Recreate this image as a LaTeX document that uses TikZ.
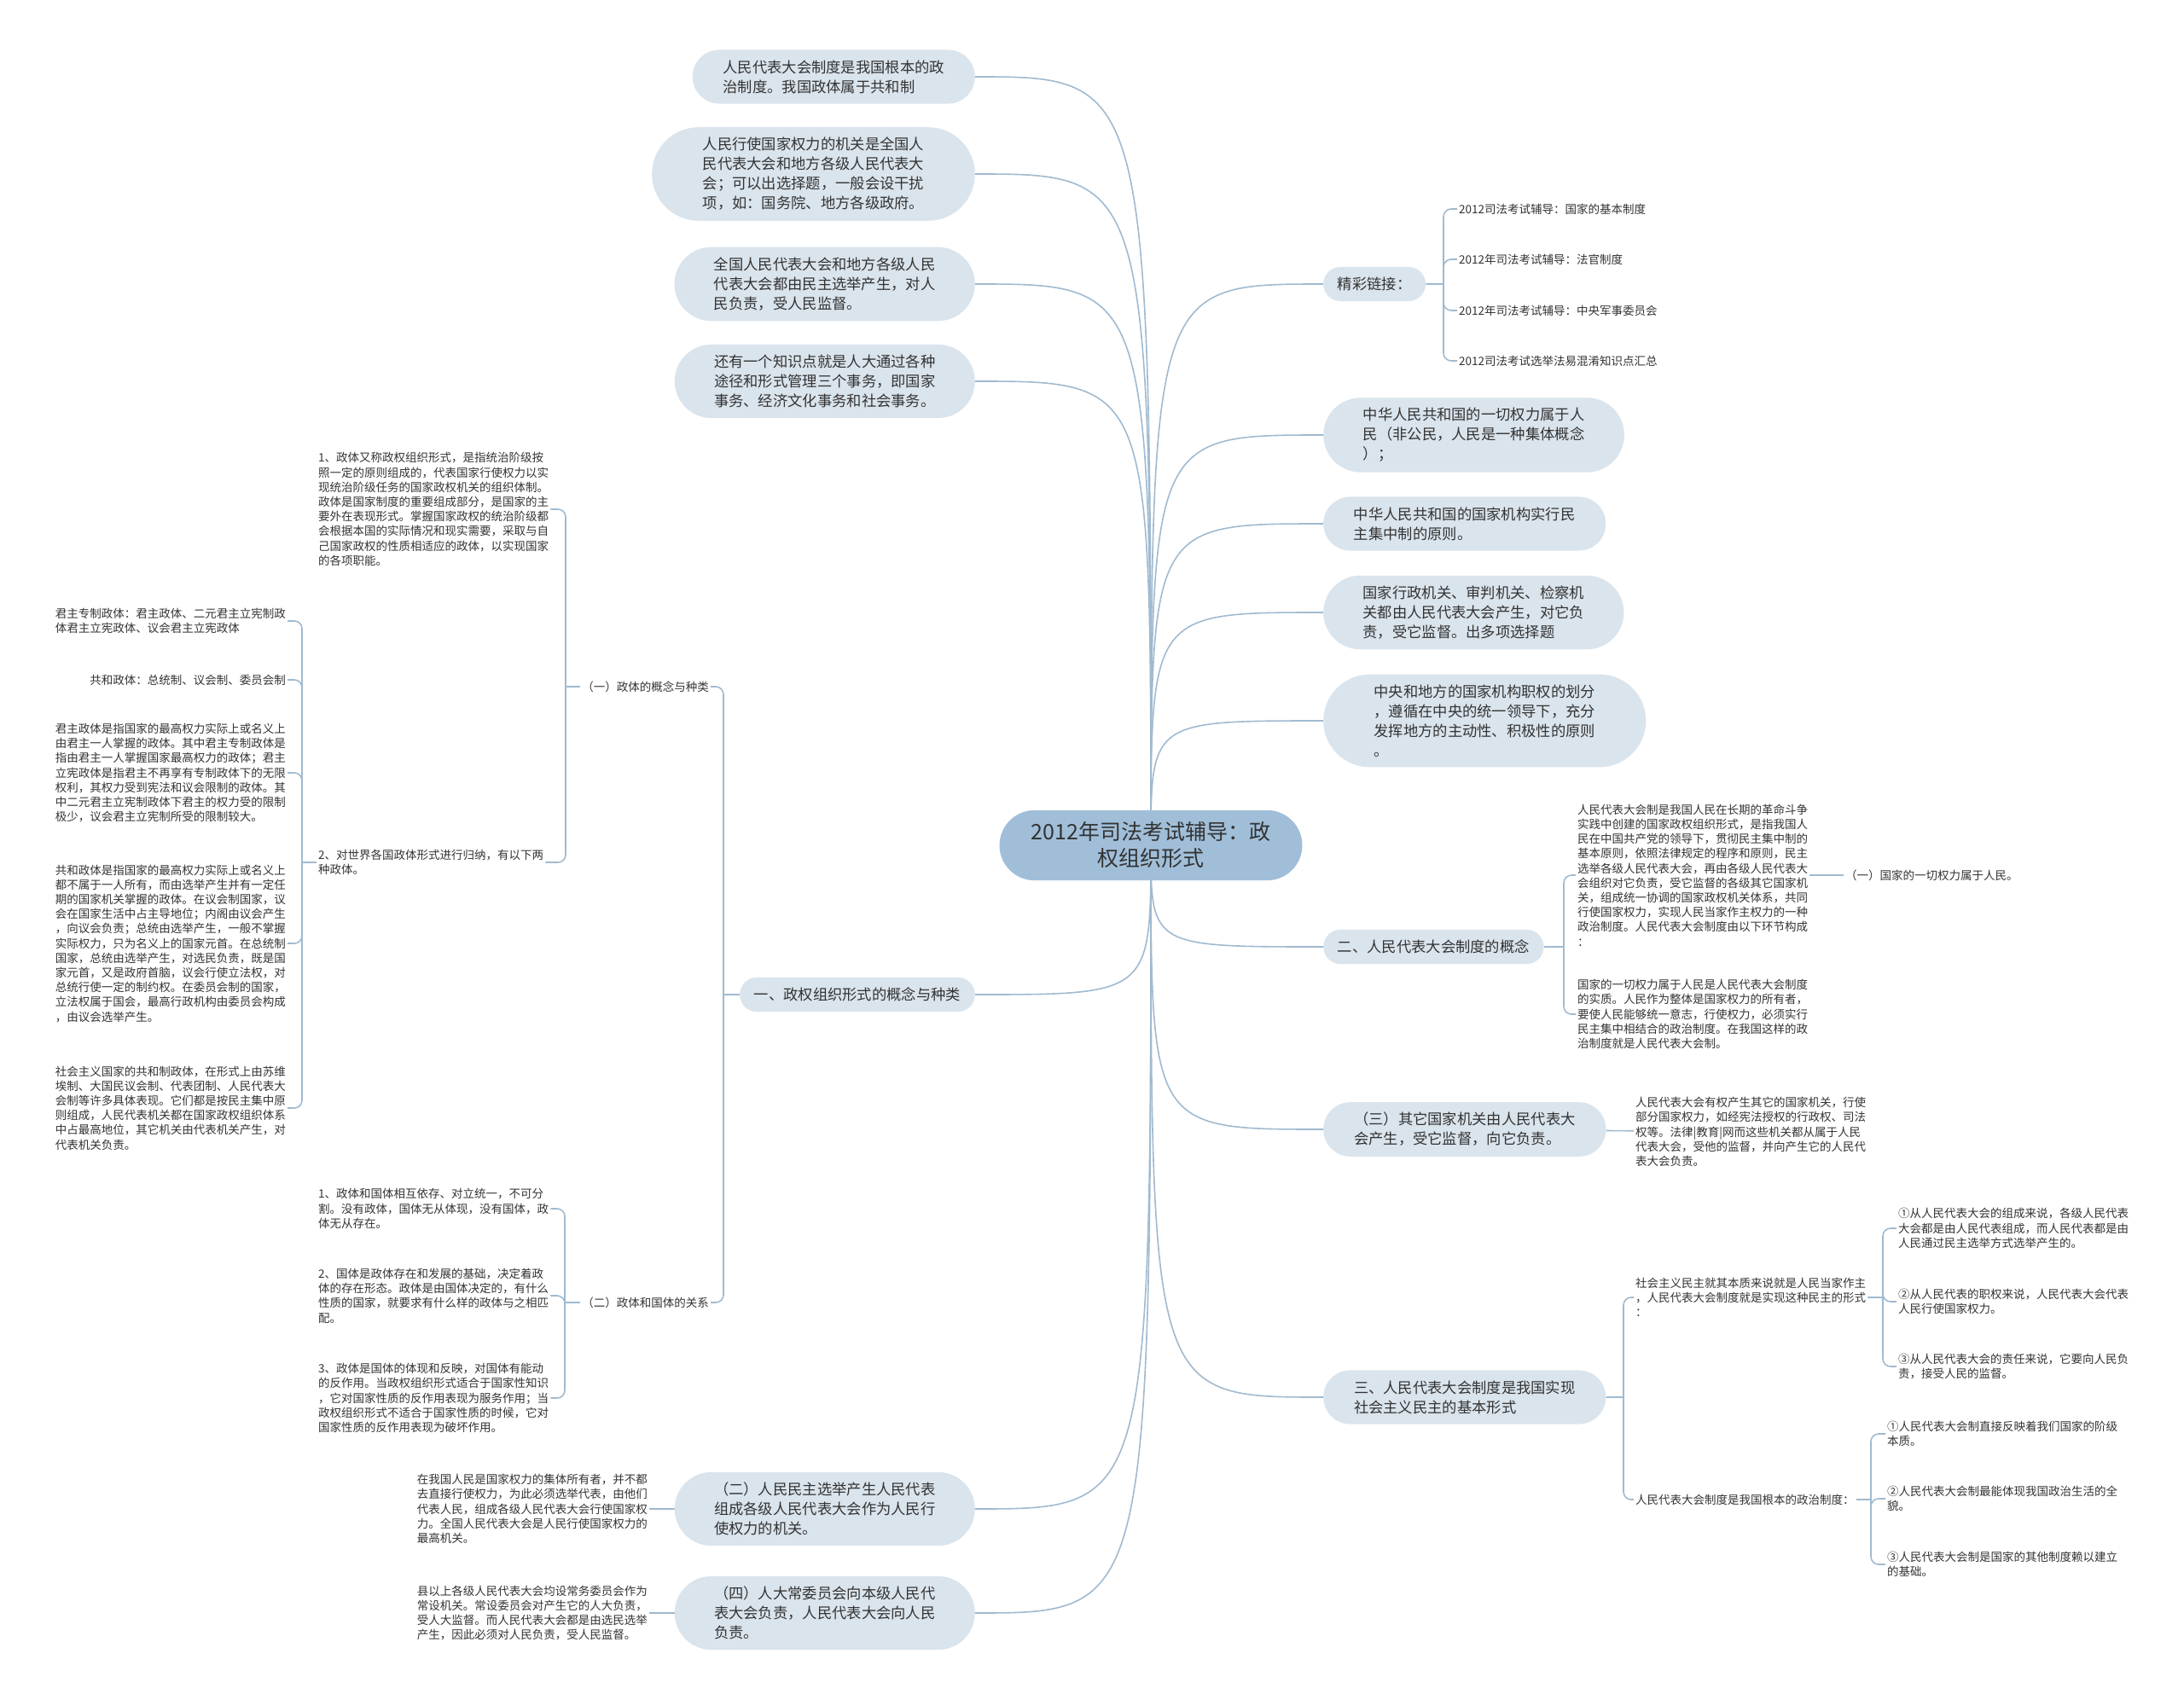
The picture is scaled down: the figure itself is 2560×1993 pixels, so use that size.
\documentclass[tikz,border=0pt]{standalone}
\usepackage{fontspec}
\setmainfont{Noto Sans CJK SC}
\usepackage{xcolor}
\usetikzlibrary{positioning, calc, backgrounds, shapes.misc}

\definecolor{linkblue}{RGB}{160,186,208}
\definecolor{topicfill}{RGB}{218,228,236}
\definecolor{rootfill}{RGB}{160,190,216}
\definecolor{inkgray}{RGB}{51,51,51}

\begin{document}
\begin{tikzpicture}[
  x=1pt, y=-1pt,
  root/.style={rounded rectangle, fill=rootfill, align=center, text=inkgray, inner xsep=27pt, inner ysep=14pt, font=\fontsize{25}{31}\selectfont},
  topic/.style={rounded rectangle, fill=topicfill, align=left, text=inkgray, inner xsep=15pt, inner ysep=12pt, font=\fontsize{17.3}{23}\selectfont},
  lines2/.style={topic, inner xsep=29pt},
  lines3/.style={topic, inner xsep=33pt},
  lines4/.style={topic, inner xsep=39pt},
  leaf/.style={align=left, text=inkgray, inner sep=2pt, font=\fontsize{13.5}{17.2}\selectfont},
  link/.style={draw=linkblue, line width=1.6pt},
  brace/.style={link, rounded corners=9pt}
]
  \path[use as bounding box] (0,0) rectangle (2560,1993);

  % Centre ================================
  \node[root] (root) at (1349,991) {2012年司法考试辅导：政\\权组织形式};

  % Branches gauches
  \node[lines2, anchor=east] (n1) at (1143,90) {人民代表大会制度是我国根本的政\\治制度。我国政体属于共和制};
  \node[lines4, anchor=east] (n2) at (1143,204) {人民行使国家权力的机关是全国人\\民代表大会和地方各级人民代表大\\会；可以出选择题，一般会设干扰\\项，如：国务院、地方各级政府。};
  \node[lines3, anchor=east] (n3) at (1143,333) {全国人民代表大会和地方各级人民\\代表大会都由民主选举产生，对人\\民负责，受人民监督。};
  \node[lines3, anchor=east] (n4) at (1143,447) {还有一个知识点就是人大通过各种\\途径和形式管理三个事务，即国家\\事务、经济文化事务和社会事务。};
  \node[topic, anchor=east] (n5) at (1143,1166) {一、政权组织形式的概念与种类};
  \node[lines3, anchor=east] (n6) at (1143,1769) {（二）人民民主选举产生人民代表\\组成各级人民代表大会作为人民行\\使权力的机关。};
  \node[lines3, anchor=east] (n7) at (1143,1891) {（四）人大常委员会向本级人民代\\表大会负责，人民代表大会向人民\\负责。};

  % Branches droites
  \node[topic, anchor=west] (r1) at (1551,333) {精彩链接：};
  \node[lines3, anchor=west] (r2) at (1551,510) {中华人民共和国的一切权力属于人\\民（非公民，人民是一种集体概念\\）；};
  \node[lines2, anchor=west] (r3) at (1551,614) {中华人民共和国的国家机构实行民\\主集中制的原则。};
  \node[lines3, anchor=west] (r4) at (1551,718) {国家行政机关、审判机关、检察机\\关都由人民代表大会产生，对它负\\责，受它监督。出多项选择题};
  \node[lines4, anchor=west] (r5) at (1551,845) {中央和地方的国家机构职权的划分\\，遵循在中央的统一领导下，充分\\发挥地方的主动性、积极性的原则\\。};
  \node[topic, anchor=west] (r6) at (1551,1110) {二、人民代表大会制度的概念};
  \node[lines2, anchor=west] (r7) at (1551,1324) {（三）其它国家机关由人民代表大\\会产生，受它监督，向它负责。};
  \node[lines2, anchor=west] (r8) at (1551,1638) {三、人民代表大会制度是我国实现\\社会主义民主的基本形式};

  %政体的概念与种类
  \node[leaf, anchor=east] (sub1) at (833,805) {（一）政体的概念与种类};
  \node[leaf, anchor=east] (sub2) at (833,1527) {（二）政体和国体的关系};
  \node[leaf, anchor=west] (b1) at (371,597) {1、政体又称政权组织形式，是指统治阶级按\\照一定的原则组成的，代表国家行使权力以实\\现统治阶级任务的国家政权机关的组织体制。\\政体是国家制度的重要组成部分，是国家的主\\要外在表现形式。掌握国家政权的统治阶级都\\会根据本国的实际情况和现实需要，采取与自\\己国家政权的性质相适应的政体，以实现国家\\的各项职能。};
  \node[leaf, anchor=west] (b2) at (371,1011) {2、对世界各国政体形式进行归纳，有以下两\\种政体。};
  \node[leaf, anchor=east] (a1) at (337,728) {君主专制政体：君主政体、二元君主立宪制政\\体君主立宪政体、议会君主立宪政体};
  \node[leaf, anchor=east] (a2) at (337,797) {共和政体：总统制、议会制、委员会制};
  \node[leaf, anchor=east] (a3) at (337,906) {君主政体是指国家的最高权力实际上或名义上\\由君主一人掌握的政体。其中君主专制政体是\\指由君主一人掌握国家最高权力的政体；君主\\立宪政体是指君主不再享有专制政体下的无限\\权利，其权力受到宪法和议会限制的政体。其\\中二元君主立宪制政体下君主的权力受的限制\\极少，议会君主立宪制所受的限制较大。};
  \node[leaf, anchor=east] (a4) at (337,1106) {共和政体是指国家的最高权力实际上或名义上\\都不属于一人所有，而由选举产生并有一定任\\期的国家机关掌握的政体。在议会制国家，议\\会在国家生活中占主导地位；内阁由议会产生\\，向议会负责；总统由选举产生，一般不掌握\\实际权力，只为名义上的国家元首。在总统制\\国家，总统由选举产生，对选民负责，既是国\\家元首，又是政府首脑，议会行使立法权，对\\总统行使一定的制约权。在委员会制的国家，\\立法权属于国会，最高行政机构由委员会构成\\，由议会选举产生。};
  \node[leaf, anchor=east] (a5) at (337,1299) {社会主义国家的共和制政体，在形式上由苏维\\埃制、大国民议会制、代表团制、人民代表大\\会制等许多具体表现。它们都是按民主集中原\\则组成，人民代表机关都在国家政权组织体系\\中占最高地位，其它机关由代表机关产生，对\\代表机关负责。};

  % 政体和国体的关系
  \node[leaf, anchor=west] (c1) at (371,1417) {1、政体和国体相互依存、对立统一，不可分\\割。没有政体，国体无从体现，没有国体，政\\体无从存在。};
  \node[leaf, anchor=west] (c2) at (371,1519) {2、国体是政体存在和发展的基础，决定着政\\体的存在形态。政体是由国体决定的，有什么\\性质的国家，就要求有什么样的政体与之相匹\\配。};
  \node[leaf, anchor=west] (c3) at (371,1639) {3、政体是国体的体现和反映，对国体有能动\\的反作用。当政权组织形式适合于国家性知识\\，它对国家性质的反作用表现为服务作用；当\\政权组织形式不适合于国家性质的时候，它对\\国家性质的反作用表现为破坏作用。};

  % Notes des noeuds (二) et (四)
  \node[leaf, anchor=east] (d1) at (761,1769) {在我国人民是国家权力的集体所有者，并不都\\去直接行使权力，为此必须选举代表，由他们\\代表人民，组成各级人民代表大会行使国家权\\力。全国人民代表大会是人民行使国家权力的\\最高机关。};
  \node[leaf, anchor=east] (d2) at (761,1891) {县以上各级人民代表大会均设常务委员会作为\\常设机关。常设委员会对产生它的人大负责，\\受人大监督。而人民代表大会都是由选民选举\\产生，因此必须对人民负责，受人民监督。};

  % 精彩链接
  \node[leaf, anchor=west] (e1) at (1708,245) {2012司法考试辅导：国家的基本制度};
  \node[leaf, anchor=west] (e2) at (1708,304) {2012年司法考试辅导：法官制度};
  \node[leaf, anchor=west] (e3) at (1708,364) {2012年司法考试辅导：中央军事委员会};
  \node[leaf, anchor=west] (e4) at (1708,423) {2012司法考试选举法易混淆知识点汇总};

  % 人民代表大会制度的概念
  \node[leaf, anchor=west] (f1) at (1847,1026) {人民代表大会制是我国人民在长期的革命斗争\\实践中创建的国家政权组织形式，是指我国人\\民在中国共产党的领导下，贯彻民主集中制的\\基本原则，依照法律规定的程序和原则，民主\\选举各级人民代表大会，再由各级人民代表大\\会组织对它负责，受它监督的各级其它国家机\\关，组成统一协调的国家政权机关体系，共同\\行使国家权力，实现人民当家作主权力的一种\\政治制度。人民代表大会制度由以下环节构成\\：};
  \node[leaf, anchor=west] (f2) at (1847,1189) {国家的一切权力属于人民是人民代表大会制度\\的实质。人民作为整体是国家权力的所有者，\\要使人民能够统一意志，行使权力，必须实行\\民主集中相结合的政治制度。在我国这样的政\\治制度就是人民代表大会制。};
  \node[leaf, anchor=west] (k1) at (2161,1026) {（一）国家的一切权力属于人民。};

  % 其它国家机关
  \node[leaf, anchor=west] (g1) at (1915,1327) {人民代表大会有权产生其它的国家机关，行使\\部分国家权力，如经宪法授权的行政权、司法\\权等。法律|教育|网而这些机关都从属于人民\\代表大会，受他的监督，并向产生它的人民代\\表大会负责。};

  % 社会主义民主的基本形式
  \node[leaf, anchor=west] (h1) at (1915,1521) {社会主义民主就其本质来说就是人民当家作主\\，人民代表大会制度就是实现这种民主的形式\\：};
  \node[leaf, anchor=west] (h2) at (1915,1758) {人民代表大会制度是我国根本的政治制度：};
  \node[leaf, anchor=west] (i1) at (2223,1440) {①从人民代表大会的组成来说，各级人民代表\\大会都是由人民代表组成，而人民代表都是由\\人民通过民主选举方式选举产生的。};
  \node[leaf, anchor=west] (i2) at (2223,1526) {②从人民代表的职权来说，人民代表大会代表\\人民行使国家权力。};
  \node[leaf, anchor=west] (i3) at (2223,1602) {③从人民代表大会的责任来说，它要向人民负\\责，接受人民的监督。};
  \node[leaf, anchor=west] (j1) at (2210,1681) {①人民代表大会制直接反映着我们国家的阶级\\本质。};
  \node[leaf, anchor=west] (j2) at (2210,1757) {②人民代表大会制最能体现我国政治生活的全\\貌。};
  \node[leaf, anchor=west] (j3) at (2210,1834) {③人民代表大会制是国家的其他制度赖以建立\\的基础。};

  % Points de jonction des accolades
  \coordinate (bA) at (848,1166);
  \coordinate (bB) at (663,805);
  \coordinate (bC) at (354,1011);
  \coordinate (bD) at (662,1527);
  \coordinate (bE) at (1692,333);
  \coordinate (bF) at (1833,1110);
  \coordinate (bH) at (1903,1638);
  \coordinate (bI) at (2207,1521);
  \coordinate (bJ) at (2193,1758);

  \begin{scope}[on background layer]
    \fill[white] (0,0) rectangle (2560,1993);

    % Liens depuis le centre
    \draw[link] (root.center) .. controls (root.center |- n1.east) .. (n1.east);
    \draw[link] (root.center) .. controls (root.center |- n2.east) .. (n2.east);
    \draw[link] (root.center) .. controls (root.center |- n3.east) .. (n3.east);
    \draw[link] (root.center) .. controls (root.center |- n4.east) .. (n4.east);
    \draw[link] (root.center) .. controls (root.center |- n5.east) .. (n5.east);
    \draw[link] (root.center) .. controls (root.center |- n6.east) .. (n6.east);
    \draw[link] (root.center) .. controls (root.center |- n7.east) .. (n7.east);
    \draw[link] (root.center) .. controls (root.center |- r1.west) .. (r1.west);
    \draw[link] (root.center) .. controls (root.center |- r2.west) .. (r2.west);
    \draw[link] (root.center) .. controls (root.center |- r3.west) .. (r3.west);
    \draw[link] (root.center) .. controls (root.center |- r4.west) .. (r4.west);
    \draw[link] (root.center) .. controls (root.center |- r5.west) .. (r5.west);
    \draw[link] (root.center) .. controls (root.center |- r6.west) .. (r6.west);
    \draw[link] (root.center) .. controls (root.center |- r7.west) .. (r7.west);
    \draw[link] (root.center) .. controls (root.center |- r8.west) .. (r8.west);
  \end{scope}

  % Accolades gauches
  \draw[link] (n5) -- (bA);
  \draw[brace] (bA) |- (sub1.east);
  \draw[brace] (bA) |- (sub2.east);

  \draw[link] (sub1) -- (bB);
  \draw[brace] (bB) |- (b1.east);
  \draw[brace] (bB) |- (b2.east);

  \draw[link] (b2) -- (bC);
  \draw[brace] (bC) |- (a1.east);
  \draw[brace] (bC) |- (a2.east);
  \draw[brace] (bC) |- (a3.east);
  \draw[brace] (bC) |- (a4.east);
  \draw[brace] (bC) |- (a5.east);

  \draw[link] (sub2) -- (bD);
  \draw[brace] (bD) |- (c1.east);
  \draw[brace] (bD) |- (c2.east);
  \draw[brace] (bD) |- (c3.east);

  \draw[link] (n6) -- (d1);
  \draw[link] (n7) -- (d2);

  % Accolades droites
  \draw[link] (r1) -- (bE);
  \draw[brace] (bE) |- (e1.west);
  \draw[brace] (bE) |- (e2.west);
  \draw[brace] (bE) |- (e3.west);
  \draw[brace] (bE) |- (e4.west);

  \draw[link] (r6) -- (bF);
  \draw[brace] (bF) |- (f1.west);
  \draw[brace] (bF) |- (f2.west);
  \draw[link] (f1) -- (k1);

  \draw[link] (r7) -- (g1);

  \draw[link] (r8) -- (bH);
  \draw[brace] (bH) |- (h1.west);
  \draw[brace] (bH) |- (h2.west);

  \draw[link] (h1) -- (bI);
  \draw[brace] (bI) |- (i1.west);
  \draw[brace] (bI) |- (i2.west);
  \draw[brace] (bI) |- (i3.west);

  \draw[link] (h2) -- (bJ);
  \draw[brace] (bJ) |- (j1.west);
  \draw[brace] (bJ) |- (j2.west);
  \draw[brace] (bJ) |- (j3.west);

\end{tikzpicture}
\end{document}
